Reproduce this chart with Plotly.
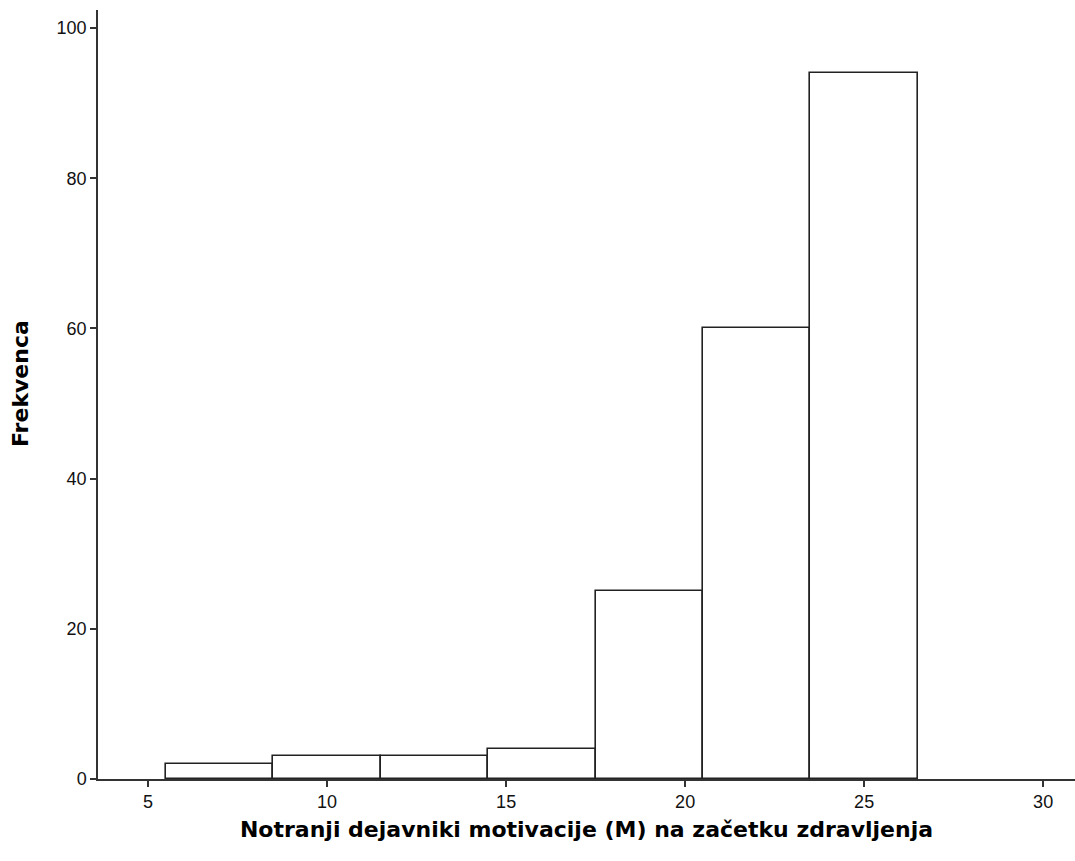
import plotly.graph_objects as go

# Histogram bins (width 3) and their frequencies
bin_centers = [7, 10, 13, 16, 19, 22, 25]
frequencies = [2, 3, 3, 4, 25, 60, 94]
bin_width = 3

x_ticks = [5, 10, 15, 20, 25, 30]
y_ticks = [0, 20, 40, 60, 80, 100]

fig = go.Figure()
fig.add_trace(go.Bar(
    x=bin_centers,
    y=frequencies,
    width=[bin_width] * len(bin_centers),
    marker=dict(color="white", line=dict(color="#222222", width=1.6)),
    showlegend=False,
))

plot_left, plot_width = 98, 977
plot_top, plot_height = 10, 769

fig.update_layout(
    width=1075,
    height=861,
    margin=dict(l=plot_left, r=0, t=plot_top, b=861 - plot_top - plot_height),
    plot_bgcolor="white",
    paper_bgcolor="white",
    font=dict(family="Liberation Sans, Arial, sans-serif", color="#000000"),
    bargap=0,
)

axis_style = dict(
    ticks="outside",
    ticklen=6,
    tickwidth=1.5,
    tickcolor="#333333",
    tickfont=dict(size=18, color="#111111"),
    showline=True,
    linecolor="#333333",
    linewidth=1.5,
    showgrid=False,
    zeroline=False,
)

fig.update_xaxes(
    range=[3.6, 30.89],
    tickvals=x_ticks,
    title=dict(
        text="<b>Notranji dejavniki motivacije (M) na začetku zdravljenja</b>",
        font=dict(size=22, family="DejaVu Sans, Verdana, sans-serif"),
        standoff=10,
    ),
    **axis_style,
)

fig.update_yaxes(
    range=[0, 102.4],
    tickvals=y_ticks,
    **axis_style,
)

# Vertical axis title placed as a rotated annotation left of the tick labels
fig.add_annotation(
    text="<b>Frekvenca</b>",
    xref="paper", yref="paper",
    x=(21 - plot_left) / plot_width,
    y=(plot_top + plot_height - 384) / plot_height,
    xanchor="center", yanchor="middle",
    textangle=-90,
    showarrow=False,
    font=dict(size=22, family="DejaVu Sans, Verdana, sans-serif", color="#000000"),
)

fig.write_html("out.html")
